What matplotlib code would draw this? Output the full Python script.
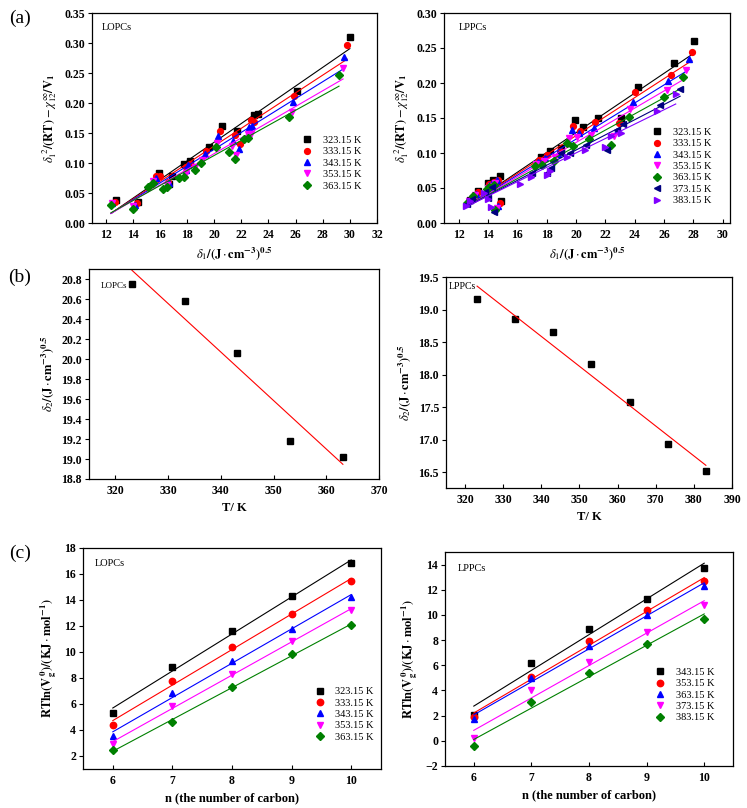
#!/usr/bin/env python3
import numpy as np
import matplotlib
matplotlib.use("Agg")
import matplotlib.pyplot as plt

plt.rcParams['font.family'] = ['Liberation Serif', 'DejaVu Serif']
plt.rcParams['mathtext.fontset'] = 'stix'

# ---------------- data ----------------
# (a) LOPCs: delta1 of solvents vs delta1^2/RT - chi/V1, one list per temperature
a1_temps = ['323.15 K', '333.15 K', '343.15 K', '353.15 K', '363.15 K']
a1_x = [
    [12.8, 14.4, 15.9, 16.7, 16.9, 17.8, 18.2, 19.6, 20.6, 21.7, 22.9, 23.2, 26.1, 30.0],
    [12.7, 14.3, 15.7, 16.0, 16.6, 17.9, 18.2, 19.4, 20.4, 21.5, 21.9, 22.7, 22.9, 25.9, 29.8],
    [12.5, 14.2, 15.7, 16.7, 17.9, 18.1, 19.3, 20.3, 21.4, 21.8, 22.6, 22.8, 25.8, 29.6],
    [12.5, 14.0, 15.5, 16.5, 17.9, 18.6, 19.1, 20.2, 21.3, 21.6, 22.5, 22.7, 25.7, 29.5],
    [12.4, 14.0, 15.1, 15.5, 16.2, 16.5, 17.4, 17.8, 18.6, 19.0, 20.1, 21.1, 21.5, 22.2, 22.5, 25.5, 29.2],
]
a1_y = [
    [0.038, 0.035, 0.083, 0.065, 0.078, 0.098, 0.103, 0.127, 0.162, 0.153, 0.180, 0.182, 0.220, 0.310],
    [0.035, 0.033, 0.078, 0.078, 0.068, 0.094, 0.099, 0.120, 0.153, 0.147, 0.131, 0.171, 0.169, 0.211, 0.297],
    [0.034, 0.030, 0.075, 0.066, 0.088, 0.096, 0.115, 0.145, 0.136, 0.123, 0.160, 0.162, 0.202, 0.277],
    [0.034, 0.029, 0.070, 0.063, 0.083, 0.093, 0.105, 0.133, 0.128, 0.113, 0.148, 0.149, 0.185, 0.259],
    [0.030, 0.024, 0.060, 0.066, 0.057, 0.060, 0.075, 0.076, 0.089, 0.100, 0.126, 0.119, 0.106, 0.140, 0.141, 0.177, 0.247],
]
a1_slope = [0.0156, 0.01477, 0.01407, 0.0131, 0.01256]
a1_icpt = [-0.1774, -0.1671, -0.1585, -0.1464, -0.1387]

# (a) LPPCs
a2_temps = ['323.15 K', '333.15 K', '343.15 K', '353.15 K', '363.15 K', '373.15 K', '383.15 K']
a2_x = [
    [12.8, 13.3, 14.0, 14.35, 14.8, 14.9, 17.6, 18.2, 19.0, 19.9, 20.5, 21.5, 23.1, 24.25, 26.65, 28.06],
    [12.9, 13.3, 14.1, 14.4, 14.7, 14.8, 17.5, 18.0, 18.9, 19.8, 20.3, 21.3, 22.9, 24.0, 26.5, 27.9],
    [12.8, 13.2, 14.1, 14.3, 14.6, 14.7, 17.4, 17.9, 18.8, 19.7, 20.2, 21.2, 22.8, 23.9, 26.3, 27.7],
    [12.7, 13.1, 14.0, 14.2, 14.5, 14.6, 17.3, 17.8, 18.6, 19.5, 20.1, 21.0, 22.6, 23.7, 26.2, 27.5],
    [12.6, 13.0, 13.9, 14.1, 14.4, 14.5, 17.2, 17.7, 18.5, 19.4, 19.8, 20.9, 22.4, 23.6, 26.0, 27.3],
    [12.6, 12.9, 13.8, 14.0, 14.3, 14.4, 17.0, 18.0, 18.3, 19.0, 19.6, 20.7, 22.1, 22.8, 23.2, 25.7, 27.1],
    [12.5, 12.8, 13.7, 14.0, 14.2, 16.2, 16.9, 18.0, 18.2, 19.4, 20.6, 22.0, 22.4, 23.1, 25.5, 26.8],
]
a2_y = [
    [0.033, 0.046, 0.057, 0.061, 0.067, 0.031, 0.095, 0.103, 0.107, 0.147, 0.137, 0.150, 0.150, 0.195, 0.228, 0.260],
    [0.034, 0.044, 0.056, 0.058, 0.062, 0.028, 0.090, 0.097, 0.103, 0.139, 0.131, 0.144, 0.143, 0.187, 0.212, 0.245],
    [0.033, 0.042, 0.054, 0.057, 0.061, 0.025, 0.087, 0.093, 0.099, 0.133, 0.129, 0.136, 0.132, 0.173, 0.203, 0.234],
    [0.031, 0.040, 0.050, 0.053, 0.057, 0.022, 0.085, 0.089, 0.095, 0.121, 0.123, 0.126, 0.124, 0.163, 0.190, 0.218],
    [0.029, 0.038, 0.048, 0.051, 0.055, 0.018, 0.082, 0.083, 0.088, 0.115, 0.110, 0.120, 0.112, 0.152, 0.180, 0.209],
    [0.027, 0.034, 0.045, 0.036, 0.052, 0.016, 0.072, 0.072, 0.078, 0.100, 0.100, 0.112, 0.105, 0.133, 0.142, 0.169, 0.192],
    [0.025, 0.031, 0.043, 0.034, 0.023, 0.056, 0.066, 0.069, 0.075, 0.095, 0.104, 0.108, 0.124, 0.129, 0.160, 0.184],
]
a2_slope = [0.01413, 0.01357, 0.0129, 0.01227, 0.01155, 0.01083, 0.01028]
a2_icpt = [-0.1536, -0.1466, -0.1382, -0.1304, -0.1214, -0.1124, -0.1055]

# (b) delta2 vs T
b1_T = [323.15, 333.15, 343.15, 353.15, 363.15]
b1_d2 = [20.745, 20.58, 20.06, 19.18, 19.02]
b2_T = [323.15, 333.15, 343.15, 353.15, 363.15, 373.15, 383.15]
b2_d2 = [19.16, 18.86, 18.66, 18.17, 17.58, 16.94, 16.52]

# (c) RTln(Vg0) vs carbon number
n_carbon = [6, 7, 8, 9, 10]
c1_temps = ['323.15 K', '333.15 K', '343.15 K', '353.15 K', '363.15 K']
c1_y = [
    [5.33, 8.86, 11.60, 14.29, 16.85],
    [4.38, 7.76, 10.40, 12.96, 15.44],
    [3.54, 6.81, 9.30, 11.80, 14.24],
    [2.92, 5.84, 8.30, 10.83, 13.21],
    [2.46, 4.64, 7.27, 9.81, 12.11],
]
c2_temps = ['343.15 K', '353.15 K', '363.15 K', '373.15 K', '383.15 K']
c2_y = [
    [2.08, 6.19, 8.91, 11.25, 13.74],
    [1.89, 5.07, 7.93, 10.37, 12.68],
    [1.71, 4.99, 7.51, 10.03, 12.30],
    [0.22, 4.01, 6.26, 8.65, 10.77],
    [-0.44, 3.09, 5.39, 7.72, 9.71],
]

colors = ['#000000', '#ff0000', '#0000ff', '#ff00ff', '#008000', '#000080', '#8000ff']
markers = ['s', 'o', '^', 'v', 'D', '<', '>']
msizes = [3.8, 4.2, 4.2, 4.2, 3.6, 4.2, 4.2]

# ---------------- figure ----------------
W, H = 747, 808
fig = plt.figure(figsize=(W / 100, H / 100), dpi=100, facecolor='w')


def px_axes(l, r, t, b):
    return fig.add_axes([l / W, 1 - b / H, (r - l) / W, (b - t) / H])


def style(ax):
    ax.tick_params(axis='x', direction='in', length=3, width=0.8, labelsize=8.5, pad=4)
    ax.tick_params(axis='y', direction='out', length=3, width=0.8, labelsize=8.5, pad=2)
    for lab in ax.get_xticklabels() + ax.get_yticklabels():
        lab.set_fontweight('bold')
    for sp in ax.spines.values():
        sp.set_linewidth(0.9)


def legend(ax, anchor):
    ax.legend(loc='lower right', bbox_to_anchor=anchor, frameon=False, fontsize=7.5,
              handlelength=1.2, handletextpad=0.9, labelspacing=0.2, borderpad=0.2)


xlab_a = r'$\delta_1\mathbf{/(J}\cdot\mathbf{cm^{-3})^{0.5}}$'
ylab_a = r'$\delta_1^{\ 2}\mathbf{/(RT)}-\chi_{12}^{\infty}\mathbf{/V_1}$'
ylab_b = r'$\delta_2\mathbf{/(J}\cdot\mathbf{cm^{-3})^{0.5}}$'
ylab_c = r'$\mathbf{RTln(V_g^{\,0})/(KJ}\cdot\mathbf{mol^{-1})}$'

# (a) left
ax = px_axes(92, 377, 13, 223)
for i in range(len(a1_temps)):
    ax.plot(a1_x[i], a1_y[i], ls='none', marker=markers[i], ms=msizes[i],
            color=colors[i], label=a1_temps[i])
    xs = np.array([12.4, max(a1_x[i])])
    ax.plot(xs, a1_slope[i] * xs + a1_icpt[i], color=colors[i], lw=0.8)
ax.set_xlim(11, 32)
ax.set_ylim(0, 0.35)
ax.set_xticks(np.arange(12, 33, 2))
ax.set_yticks(np.arange(0, 0.351, 0.05))
ax.set_xlabel(xlab_a, fontsize=9)
ax.set_ylabel(ylab_a, fontsize=9)
ax.text(0.035, 0.93, 'LOPCs', transform=ax.transAxes, fontsize=7.5, va='center')
legend(ax, (0.97, 0.12))
style(ax)

# (a) right
ax = px_axes(444, 730, 13, 223)
for i in range(len(a2_temps)):
    ax.plot(a2_x[i], a2_y[i], ls='none', marker=markers[i], ms=msizes[i],
            color=colors[i], label=a2_temps[i])
    xs = np.array([12.5, max(a2_x[i])])
    ax.plot(xs, a2_slope[i] * xs + a2_icpt[i], color=colors[i], lw=0.8)
ax.set_xlim(11, 30.5)
ax.set_ylim(0, 0.30)
ax.set_xticks(np.arange(12, 31, 2))
ax.set_yticks(np.arange(0, 0.301, 0.05))
ax.set_xlabel(xlab_a, fontsize=9)
ax.set_ylabel(ylab_a, fontsize=9)
ax.text(0.05, 0.93, 'LPPCs', transform=ax.transAxes, fontsize=7.5, va='center')
legend(ax, (0.96, 0.05))
style(ax)

# (b) left
ax = px_axes(89, 379, 269, 479)
ax.plot(b1_T, b1_d2, ls='none', marker='s', ms=3.8, color='k')
k, c0 = np.polyfit(b1_T, b1_d2, 1)
xs = np.array([b1_T[0], b1_T[-1]])
ax.plot(xs, k * xs + c0, color='#ff0000', lw=0.8)
ax.set_xlim(315, 370)
ax.set_ylim(18.8, 20.9)
ax.set_xticks(np.arange(320, 371, 10))
ax.set_yticks(np.arange(18.8, 20.81, 0.2))
ax.set_xlabel('T/ K', fontsize=9, fontweight='bold')
ax.set_ylabel(ylab_b, fontsize=9)
ax.text(0.04, 0.92, 'LOPCs', transform=ax.transAxes, fontsize=6.5, va='center')
style(ax)

# (b) right
ax = px_axes(446, 732, 277, 488)
ax.plot(b2_T, b2_d2, ls='none', marker='s', ms=3.8, color='k')
k, c0 = np.polyfit(b2_T, b2_d2, 1)
xs = np.array([b2_T[0], b2_T[-1]])
ax.plot(xs, k * xs + c0, color='#ff0000', lw=0.8)
ax.set_xlim(315, 390)
ax.set_ylim(16.26, 19.5)
ax.set_xticks(np.arange(320, 391, 10))
ax.set_yticks(np.arange(16.5, 19.51, 0.5))
ax.set_xlabel('T/ K', fontsize=9, fontweight='bold')
ax.set_ylabel(ylab_b, fontsize=9)
ax.text(0.01, 0.955, 'LPPCs', transform=ax.transAxes, fontsize=7, va='center')
style(ax)

# (c) left
ax = px_axes(83, 381, 548, 769)
for i in range(len(c1_temps)):
    ax.plot(n_carbon, c1_y[i], ls='none', marker=markers[i], ms=msizes[i] + 0.4,
            color=colors[i], label=c1_temps[i])
    k, c0 = np.polyfit(n_carbon, c1_y[i], 1)
    xs = np.array([6, 10])
    ax.plot(xs, k * xs + c0, color=colors[i], lw=0.8)
ax.set_xlim(5.5, 10.5)
ax.set_ylim(1, 18)
ax.set_xticks(n_carbon)
ax.set_yticks(np.arange(2, 19, 2))
ax.set_xlabel('n (the number of carbon)', fontsize=9, fontweight='bold')
ax.set_ylabel(ylab_c, fontsize=9)
ax.text(0.04, 0.93, 'LOPCs', transform=ax.transAxes, fontsize=7.5, va='center')
legend(ax, (1.0, 0.09))
style(ax)

# (c) right
ax = px_axes(445, 733, 552, 766)
for i in range(len(c2_temps)):
    ax.plot(n_carbon, c2_y[i], ls='none', marker=markers[i], ms=msizes[i] + 0.4,
            color=colors[i], label=c2_temps[i])
    k, c0 = np.polyfit(n_carbon, c2_y[i], 1)
    xs = np.array([6, 10])
    ax.plot(xs, k * xs + c0, color=colors[i], lw=0.8)
ax.set_xlim(5.5, 10.5)
ax.set_ylim(-2, 15)
ax.set_xticks(n_carbon)
ax.set_yticks(np.arange(-2, 15, 2))
ax.set_xlabel('n (the number of carbon)', fontsize=9, fontweight='bold')
ax.set_ylabel(ylab_c, fontsize=9)
ax.text(0.045, 0.925, 'LPPCs', transform=ax.transAxes, fontsize=7.5, va='center')
legend(ax, (0.96, 0.17))
style(ax)

# panel letters
fig.text(20 / W, 1 - 18 / H, '(a)', fontsize=14, ha='center', va='center')
fig.text(20 / W, 1 - 277 / H, '(b)', fontsize=14, ha='center', va='center')
fig.text(20 / W, 1 - 553 / H, '(c)', fontsize=14, ha='center', va='center')

fig.savefig('out.png', dpi=100)
